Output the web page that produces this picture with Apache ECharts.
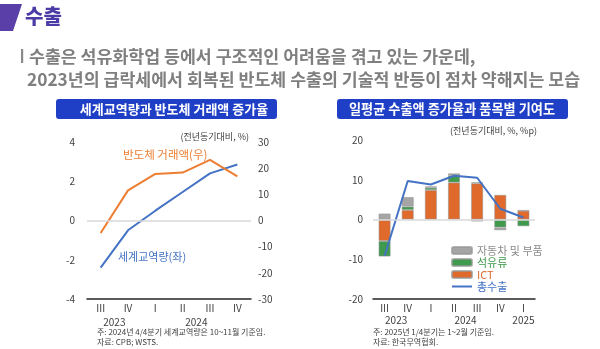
<!DOCTYPE html>
<html>
<head>
<meta charset="utf-8">
<script src="https://cdn.jsdelivr.net/npm/echarts@6/dist/echarts.min.js"></script>
<style>
  html, body { margin: 0; padding: 0; background: #fff; }
  #main { width: 600px; height: 349px; }
</style>
</head>
<body>
<div id="main"></div>
<script>
// ---- 왼쪽: 세계교역량과 반도체 거래액 증가율 ----
const quartersLeft = ['III', 'IV', 'I', 'II', 'III', 'IV'];
const yearsLeft = ['', '', '2023', '', '', '', '', '', '2024', '', '', '', ''];
const worldTrade = [-2.4, -0.5, 0.5, 1.45, 2.4, 2.85];      // 세계교역량(좌), %
const semiTrade = [-4.8, 11.5, 17.8, 18.3, 23.2, 16.9];     // 반도체 거래액(우), %

// ---- 오른쪽: 일평균 수출액 증가율과 품목별 기여도 ----
const quartersRight = ['III', 'IV', 'I', 'II', 'III', 'IV', 'I'];
const yearsRight = ['', '', '2023', '', '', '', '', '', '2024', '', '', '', '', '2025', ''];
const ictContrib = [-5.4, 2.4, 7.4, 9.3, 9.1, 6.2, 2.2];
const petroContrib = [-3.9, 0.85, 0.6, 1.7, 0.25, -2.0, -1.7];
const autoContrib = [1.5, 2.4, 0.35, 0.6, -0.5, -0.7, 0.15];
const totalExport = [-9.2, 9.7, 8.8, 11.0, 10.5, 2.7, 0.5];

const FONT = '"Noto Sans CJK KR", "Noto Sans", sans-serif';
const C_BLUE = '#4472c4';
const C_ORANGE = '#ed7d31';
const C_BAR_ORANGE = '#e0692c';
const C_GREEN = '#3f9a4e';
const C_GRAY = '#a5a5a5';
const TICK = { color: '#404040', fontSize: 10, fontFamily: FONT };

const chart = echarts.init(document.getElementById('main'));

const barBorder = { borderColor: 'rgba(150,150,150,0.7)', borderWidth: 0.8 };
const zeroLine = {
  silent: true, symbol: 'none', label: { show: false },
  lineStyle: { color: '#d9d9d9', width: 1.5, type: 'solid' },
  data: [{ yAxis: 0 }]
};

chart.setOption({
  animation: false,
  textStyle: { fontFamily: FONT },
  grid: [
    { left: 87, right: 349, top: 142, bottom: 50 },
    { left: 373, right: 65, top: 140, bottom: 50 }
  ],
  xAxis: [
    {
      gridIndex: 0, type: 'category', data: quartersLeft,
      axisLine: { onZero: false, lineStyle: { color: '#262626', width: 1.5 } },
      axisTick: { show: false },
      axisLabel: Object.assign({ margin: 4 }, TICK)
    },
    {
      gridIndex: 0, type: 'category', data: yearsLeft, boundaryGap: false,
      position: 'bottom', offset: 14,
      axisLine: { show: false }, axisTick: { show: false },
      axisLabel: Object.assign({ interval: 0, margin: 4 }, TICK)
    },
    {
      gridIndex: 1, type: 'category', data: quartersRight,
      axisLine: { onZero: false, lineStyle: { color: '#262626', width: 1.5 } },
      axisTick: { show: false },
      axisLabel: Object.assign({ margin: 4 }, TICK)
    },
    {
      gridIndex: 1, type: 'category', data: yearsRight, boundaryGap: false,
      position: 'bottom', offset: 12,
      axisLine: { show: false }, axisTick: { show: false },
      axisLabel: Object.assign({ interval: 0, margin: 4 }, TICK)
    }
  ],
  yAxis: [
    {
      gridIndex: 0, type: 'value', min: -4, max: 4, interval: 2, position: 'left',
      axisLine: { show: false }, axisTick: { show: false }, splitLine: { show: false },
      axisLabel: Object.assign({ margin: 12 }, TICK)
    },
    {
      gridIndex: 0, type: 'value', min: -30, max: 30, interval: 10, position: 'right',
      axisLine: { show: false }, axisTick: { show: false }, splitLine: { show: false },
      axisLabel: Object.assign({ margin: 7 }, TICK)
    },
    {
      gridIndex: 1, type: 'value', min: -20, max: 20, interval: 10, position: 'left',
      axisLine: { show: false }, axisTick: { show: false }, splitLine: { show: false },
      axisLabel: Object.assign({ margin: 10 }, TICK)
    }
  ],
  legend: {
    orient: 'vertical', left: 446, top: 240,
    itemWidth: 20, itemHeight: 7, itemGap: 1,
    textStyle: { fontSize: 11, fontFamily: FONT },
    data: [
      { name: '자동차 및 부품', textStyle: { color: '#8c8c8c' } },
      { name: '석유류', textStyle: { color: C_GREEN } },
      { name: 'ICT', textStyle: { color: C_BAR_ORANGE } },
      { name: '총수출', icon: 'path://M0,0h100v10h-100z', textStyle: { color: C_BLUE } }
    ]
  },
  series: [
    {
      name: '세계교역량', type: 'line', xAxisIndex: 0, yAxisIndex: 0,
      data: worldTrade, symbol: 'none', lineStyle: { color: C_BLUE, width: 2 }, itemStyle: { color: C_BLUE },
      markLine: zeroLine, z: 3
    },
    {
      name: '반도체 거래액', type: 'line', xAxisIndex: 0, yAxisIndex: 1,
      data: semiTrade, symbol: 'none', lineStyle: { color: C_ORANGE, width: 2 }, itemStyle: { color: C_ORANGE }, z: 3
    },
    {
      name: 'ICT', type: 'bar', xAxisIndex: 2, yAxisIndex: 2, stack: 'contrib',
      data: ictContrib, barWidth: 12,
      itemStyle: Object.assign({ color: C_BAR_ORANGE }, barBorder),
      markLine: zeroLine
    },
    {
      name: '석유류', type: 'bar', xAxisIndex: 2, yAxisIndex: 2, stack: 'contrib',
      data: petroContrib, barWidth: 12,
      itemStyle: Object.assign({ color: C_GREEN }, barBorder)
    },
    {
      name: '자동차 및 부품', type: 'bar', xAxisIndex: 2, yAxisIndex: 2, stack: 'contrib',
      data: autoContrib, barWidth: 12,
      itemStyle: Object.assign({ color: C_GRAY }, barBorder)
    },
    {
      name: '총수출', type: 'line', xAxisIndex: 2, yAxisIndex: 2,
      data: totalExport, symbol: 'none', lineStyle: { color: C_BLUE, width: 2 }, itemStyle: { color: C_BLUE }, z: 4
    }
  ],
  graphic: [
    // 섹션 머리표
    { type: 'polygon', shape: { points: [[0, 4], [22, 4], [13, 31], [0, 31]] }, style: { fill: '#5a3fa8' } },
    { type: 'text', left: 25, top: 6, style: { text: '수출', fontSize: 20, fontWeight: 900, fill: '#4b3ba6', fontFamily: FONT } },
    // 요약 문구
    { type: 'rect', shape: { x: 21, y: 49, width: 2.2, height: 14 }, style: { fill: '#8a8a8a' } },
    { type: 'text', x: 29, y: 56, style: { text: '수출은 석유화학업 등에서 구조적인 어려움을 겪고 있는 가운데,', fontSize: 17.3, fontWeight: 'bold', fill: '#7f7f7f', verticalAlign: 'middle', fontFamily: FONT } },
    { type: 'text', x: 27, y: 79, style: { text: '2023년의 급락세에서 회복된 반도체 수출의 기술적 반등이 점차 약해지는 모습', fontSize: 17.3, fontWeight: 'bold', fill: '#7f7f7f', verticalAlign: 'middle', fontFamily: FONT } },
    // 차트 제목 상자
    { type: 'rect', shape: { x: 56, y: 99, width: 221, height: 20, r: 3 }, style: { fill: '#1f3fc6' } },
    { type: 'text', x: 174, y: 109, style: { text: '세계교역량과 반도체 거래액 증가율', fontSize: 13, fontWeight: 'bold', fill: '#fff', align: 'center', verticalAlign: 'middle', fontFamily: FONT } },
    { type: 'rect', shape: { x: 337, y: 99, width: 231, height: 20, r: 3 }, style: { fill: '#1f3fc6' } },
    { type: 'text', x: 452, y: 109, style: { text: '일평균 수출액 증가율과 품목별 기여도', fontSize: 13.2, fontWeight: 'bold', fill: '#fff', align: 'center', verticalAlign: 'middle', fontFamily: FONT } },
    // 단위
    { type: 'text', x: 249, y: 137, style: { text: '(전년동기대비, %)', fontSize: 9, fill: '#404040', align: 'right', verticalAlign: 'middle', fontFamily: FONT } },
    { type: 'text', x: 537, y: 131, style: { text: '(전년동기대비, %, %p)', fontSize: 9, fill: '#404040', align: 'right', verticalAlign: 'middle', fontFamily: FONT } },
    // 계열 이름표
    { type: 'text', x: 123, y: 155, style: { text: '반도체 거래액(우)', fontSize: 11.5, fill: C_ORANGE, verticalAlign: 'middle', fontFamily: FONT } },
    { type: 'text', x: 118, y: 257, style: { text: '세계교역량(좌)', fontSize: 11, fill: C_BLUE, verticalAlign: 'middle', fontFamily: FONT } },
    // 주석
    { type: 'text', x: 97, y: 332, style: { text: '주: 2024년 4/4분기 세계교역량은 10~11월 기준임.', fontSize: 8, fill: '#404040', verticalAlign: 'middle', fontFamily: FONT } },
    { type: 'text', x: 97, y: 342, style: { text: '자료: CPB; WSTS.', fontSize: 8, fill: '#404040', verticalAlign: 'middle', fontFamily: FONT } },
    { type: 'text', x: 373, y: 332, style: { text: '주: 2025년 1/4분기는 1~2월 기준임.', fontSize: 8, fill: '#404040', verticalAlign: 'middle', fontFamily: FONT } },
    { type: 'text', x: 373, y: 342, style: { text: '자료: 한국무역협회.', fontSize: 8, fill: '#404040', verticalAlign: 'middle', fontFamily: FONT } }
  ]
});
</script>
</body>
</html>
